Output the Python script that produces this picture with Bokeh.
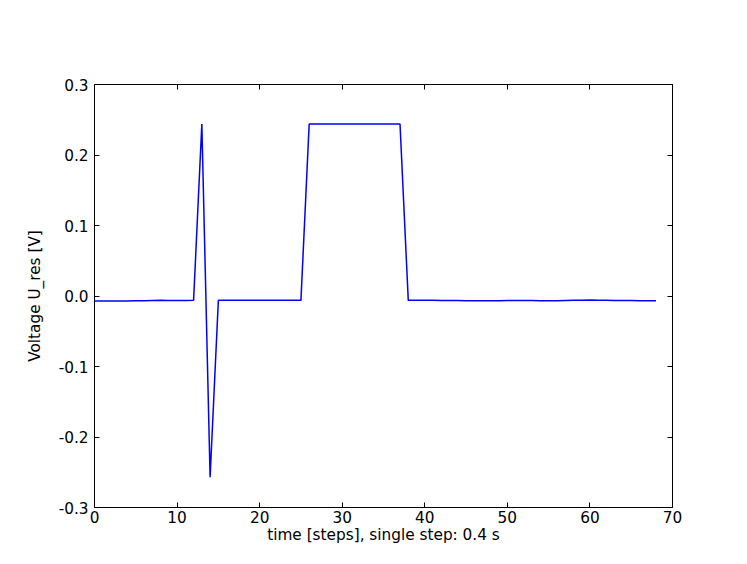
from bokeh.plotting import figure
from bokeh.models import LinearAxis, FixedTicker, Range1d, CustomJSTickFormatter
from bokeh.embed import file_html
from bokeh.resources import INLINE

steps = list(range(69))
voltage = [
    -0.007, -0.007, -0.007, -0.007, -0.007, -0.0068, -0.0066, -0.0064, -0.0062, -0.0064,
    -0.0064, -0.0063, -0.0062, 0.244, -0.257, -0.0062, -0.0062, -0.0062, -0.0062, -0.0062,
    -0.0062, -0.0062, -0.0062, -0.0062, -0.0062, -0.0062, 0.244, 0.244, 0.244, 0.244,
    0.244, 0.244, 0.244, 0.244, 0.244, 0.244, 0.244, 0.244, -0.0062, -0.0062,
    -0.0062, -0.0062, -0.0063, -0.0064, -0.0065, -0.0066, -0.0066, -0.0066, -0.0066, -0.0066,
    -0.0065, -0.0065, -0.0064, -0.0065, -0.0066, -0.0066, -0.0066, -0.0064, -0.0062, -0.0060,
    -0.0058, -0.0060, -0.0062, -0.0064, -0.0064, -0.0064, -0.0066, -0.0068, -0.0066,
]
x_ticks = [0, 10, 20, 30, 40, 50, 60, 70]
y_ticks = [-0.3, -0.2, -0.1, 0.0, 0.1, 0.2, 0.3]

FONT = "DejaVu Sans"
FS = "15.3px"

p = figure(width=731, height=548, output_backend="svg", toolbar_location=None,
           x_range=Range1d(0, 70), y_range=Range1d(-0.3, 0.3),
           min_border_left=94, min_border_right=59, min_border_top=84, min_border_bottom=41,
           x_axis_label="time [steps], single step: 0.4 s",
           y_axis_label="Voltage U_res [V]")
p.grid.visible = False
p.outline_line_color = "black"
p.outline_line_width = 1
p.background_fill_color = "white"
p.border_fill_color = "white"

p.line(steps, voltage, line_color="#0000ff", line_width=1.5)

fmt = CustomJSTickFormatter(code="return tick.toFixed(1);")
blank = CustomJSTickFormatter(code="return '';")

for ax in p.xaxis:
    ax.ticker = FixedTicker(ticks=x_ticks)
for ax in p.yaxis:
    ax.ticker = FixedTicker(ticks=y_ticks)
    ax.formatter = fmt

for ax in list(p.xaxis) + list(p.yaxis):
    ax.axis_line_color = None
    ax.major_tick_in = 5
    ax.major_tick_out = 0
    ax.minor_tick_line_color = None
    ax.major_label_text_font = FONT
    ax.major_label_text_font_size = FS
    ax.major_label_text_color = "black"
    ax.axis_label_text_font = FONT
    ax.axis_label_text_font_size = FS
    ax.axis_label_text_font_style = "normal"
    ax.axis_label_text_color = "black"

p.xaxis.major_label_standoff = 3
p.xaxis.axis_label_standoff = 0
p.yaxis.major_label_standoff = 6
p.yaxis.axis_label_standoff = 12

top = LinearAxis(ticker=FixedTicker(ticks=x_ticks), formatter=blank,
                 axis_line_color=None, major_tick_in=5, major_tick_out=0,
                 minor_tick_line_color=None, major_label_standoff=0)
right = LinearAxis(ticker=FixedTicker(ticks=y_ticks), formatter=blank,
                   axis_line_color=None, major_tick_in=5, major_tick_out=0,
                   minor_tick_line_color=None, major_label_standoff=0)
p.add_layout(top, "above")
p.add_layout(right, "right")

open("out.html", "w").write(file_html(p, INLINE))
